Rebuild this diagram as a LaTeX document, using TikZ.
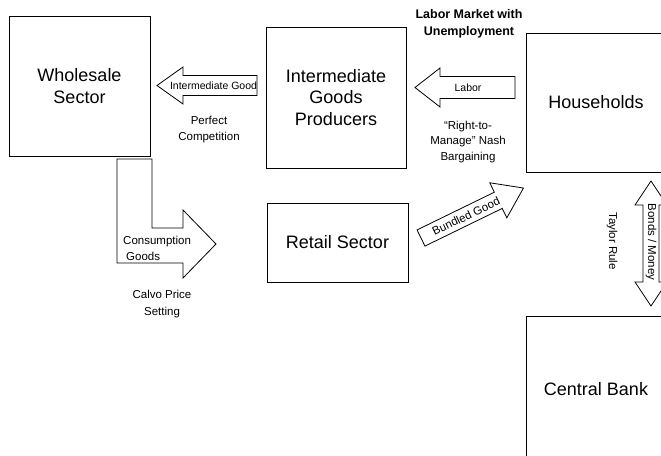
\documentclass[tikz,border=0pt]{standalone}
\usepackage{fontspec}
\setmainfont{Liberation Sans}

\begin{document}
\begin{tikzpicture}[x=1pt,y=-1pt,
        sector/.style={draw,line width=0.8pt,align=center,inner sep=0pt,
            font=\fontsize{18}{21.5}\selectfont},
        blockarrow/.style={draw,line width=0.8pt,fill=white,line join=miter},
        note/.style={align=center,inner sep=0pt,font=\fontsize{11.5}{16}\selectfont},
        flow/.style={inner sep=0pt,font=\fontsize{10.5}{12}\selectfont}]
    \useasboundingbox (0,0) rectangle (661,455);
    \clip (0,0) rectangle (661,455);

    % sectors
    \node[sector,minimum width=141pt,minimum height=140pt] (wholesale) at (79.5,86) {Wholesale\\Sector};
    \node[sector,minimum width=140pt,minimum height=141pt] (producers) at (336,97.5) {Intermediate\\Goods\\Producers};
    \node[sector,minimum width=141pt,minimum height=79pt] (retail) at (337.5,242.5) {Retail Sector};
    \node[sector,minimum width=140pt,minimum height=139pt] (households) at (596,102.5) {Households};
    \node[sector,minimum width=140pt,minimum height=146pt] (bank) at (596,389) {Central Bank};

    % block arrows
    \draw[blockarrow] (257,75.5) -- (183,75.5) -- (183,67) -- (157,85.5) -- (183,104)
        -- (183,95.5) -- (257,95.5) -- cycle;
    \node[flow] (interm) at (213.5,86) {Intermediate Good};

    \draw[blockarrow] (515,76.5) -- (440,76.5) -- (440,68) -- (415,87.5) -- (440,107)
        -- (440,98.5) -- (515,98.5) -- cycle;
    \node[flow] (labor) at (468,88) {Labor};

    \draw[blockarrow] (117,159) -- (152,159) -- (152,228) -- (183,228) -- (183,210)
        -- (216,244) -- (183,278) -- (183,263) -- (117,263) -- cycle;
    \node[note,align=left,anchor=west] (consumption) at (123,248) {Consumption\\\hspace*{3pt}Goods};

    \begin{scope}[shift={(421,238)},rotate=26]
        \draw[blockarrow] (0,-9) -- (86,-9) -- (86,-19.5) -- (114,0) -- (86,19.5)
            -- (86,9) -- (0,9) -- cycle;
        \node[note,rotate=26] (bundled) at (50,0) {Bundled Good};
    \end{scope}

    \draw[blockarrow] (651,181) -- (667,205) -- (659,205) -- (659,282) -- (667,282)
        -- (651,306) -- (635,282) -- (643,282) -- (643,205) -- (635,205) -- cycle;
    \node[note,rotate=-90] (bonds) at (651,242) {Bonds / Money};

    % labels
    \node[note,font=\bfseries\fontsize{12.5}{17.5}\selectfont] (market) at (469,24) {Labor Market with\\Unemployment};
    \node[note] (perfect) at (209,130) {Perfect\\Competition};
    \node[note,font=\fontsize{11.5}{15.5}\selectfont] (nash) at (468,142) {“Right-to-\\Manage" Nash\\Bargaining};
    \node[note,font=\fontsize{11.5}{17}\selectfont] (calvo) at (162,304.5) {Calvo Price\\Setting};
    \node[note,rotate=-90] (taylor) at (612,241) {Taylor Rule};
\end{tikzpicture}
\end{document}
